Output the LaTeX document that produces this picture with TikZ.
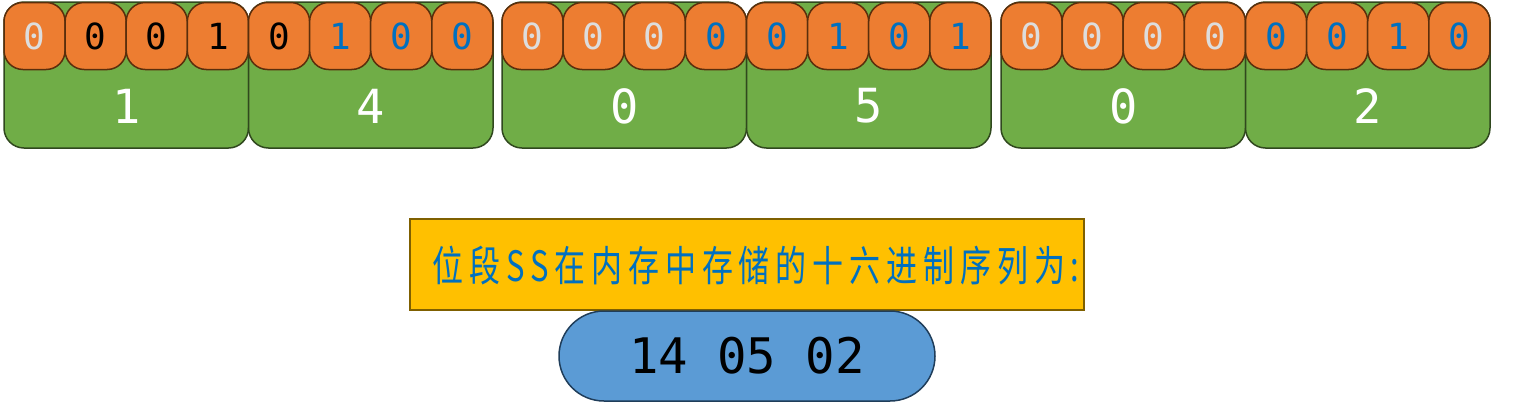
\documentclass[tikz,border=0pt]{standalone}
\usepackage{fontspec}
\setmonofont{DejaVu Sans Mono}
\newfontfamily\cjk{Noto Sans CJK SC}
\usetikzlibrary{positioning}

\definecolor{nibblegreen}{HTML}{70AD47}
\definecolor{nibbleline}{HTML}{30481E}
\definecolor{bitorange}{HTML}{ED7D31}
\definecolor{bitline}{HTML}{5A2E0C}
\definecolor{bitgray}{HTML}{DDDDDD}
\definecolor{bitblue}{HTML}{0070C0}
\definecolor{noteyellow}{HTML}{FFC000}
\definecolor{noteline}{HTML}{7F6000}
\definecolor{pillblue}{HTML}{5B9BD5}
\definecolor{pillline}{HTML}{1F3D5A}

\begin{document}
\begin{tikzpicture}[x=1pt, y=-1pt,
    nibble/.style={rectangle, draw=nibbleline, fill=nibblegreen, line width=1.5pt, rounded corners=20pt, minimum width=244.5pt, minimum height=146pt, inner sep=0pt},
    hexdigit/.style={text=white, font=\ttfamily\fontsize{47}{47}\selectfont},
    bitcell/.style={rectangle, draw=bitline, fill=bitorange, line width=1.5pt, rounded corners=19pt, minimum width=61.1pt, minimum height=67pt, inner sep=0pt, font=\ttfamily\fontsize{36}{36}\selectfont},
    note/.style={rectangle, draw=noteline, fill=noteyellow, line width=1.2pt, minimum width=674pt, minimum height=91pt, inner sep=0pt},
    pill/.style={rectangle, draw=pillline, fill=pillblue, line width=1.5pt, rounded corners=45pt, minimum width=376pt, minimum height=90pt, inner sep=0pt, font=\ttfamily\fontsize{49}{49}\selectfont}
]
    \useasboundingbox (0,0) rectangle (1515,416);

    % nibbles: number / left edge / hex digit / bits
    \foreach \n/\x/\h/\bits in {
        1/4/1/{0/bitgray,0/black,0/black,1/black},
        2/248.5/4/{0/black,1/bitblue,0/bitblue,0/bitblue},
        3/502/0/{0/bitgray,0/bitgray,0/bitgray,0/bitblue},
        4/746.5/5/{0/bitblue,1/bitblue,0/bitblue,1/bitblue},
        5/1001/0/{0/bitgray,0/bitgray,0/bitgray,0/bitgray},
        6/1245.5/2/{0/bitblue,0/bitblue,1/bitblue,0/bitblue}} {
        \node[nibble] (nib\n) at (\x+122.25,75) {};
        \node[hexdigit] (hex\n) at (\x+122.25,106) {\h};
        \foreach \v/\c [count=\j] in \bits {
            \node[bitcell, text=\c] (bit\n-\j) at (\x+30.55+61.1*\j-61.1,36) {\v};
        }
    }

    \node[note] (note) at (747,264.5) {};
    \node[text=bitblue, font=\cjk\fontsize{31}{31}\selectfont\addfontfeature{LetterSpace=19}] (notetext) at (756,266) {\scalebox{1}[1.35]{位段SS在内存中存储的十六进制序列为:}};
    \node[pill] (hexseq) at (747,356) {14 05 02};
\end{tikzpicture}
\end{document}
